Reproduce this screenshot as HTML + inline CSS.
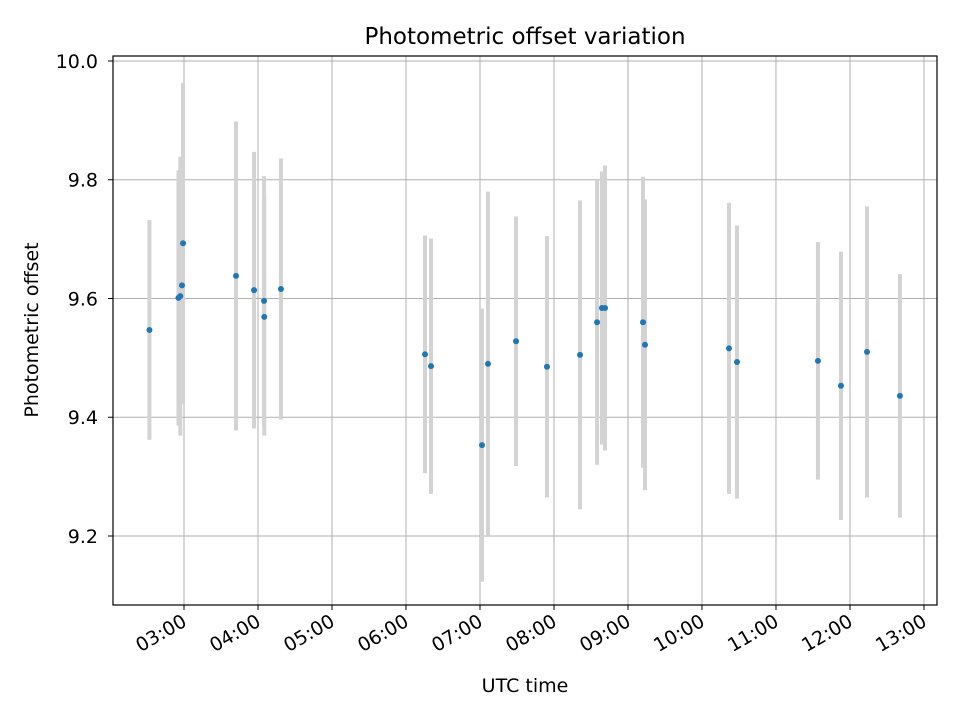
<!DOCTYPE html>
<html><head><meta charset="utf-8"><style>
body{margin:0;background:#fff;}
svg text{font-family:"DejaVu Sans","Liberation Sans",sans-serif;fill:#000;}
</style></head><body>
<svg id="chart" width="960" height="720" viewBox="0 0 960 720" xmlns="http://www.w3.org/2000/svg">
<rect width="960" height="720" fill="#fff"/>
<g id="grid"></g>
<g id="errs"></g>
<g id="pts"></g>
<rect x="113" y="56" width="824" height="549" fill="none" stroke="#000" stroke-width="1.2"/>
<g id="axes"></g>
<text x="525" y="44" text-anchor="middle" font-size="23">Photometric offset variation</text>
<text x="525" y="692" text-anchor="middle" font-size="19">UTC time</text>
<text transform="translate(38,330) rotate(-90)" text-anchor="middle" font-size="19">Photometric offset</text>
</svg>
<script>
// time in decimal hours (UTC)
const times = [2.533,2.925,2.95,2.973,2.987,3.703,3.947,4.082,4.085,4.31,6.257,6.338,7.027,7.108,7.487,7.905,8.352,8.582,8.648,8.69,9.203,9.23,10.365,10.473,11.567,11.878,12.23,12.675];
const offsets = [9.547,9.601,9.604,9.622,9.693,9.638,9.614,9.596,9.569,9.616,9.506,9.486,9.353,9.49,9.528,9.485,9.505,9.56,9.584,9.584,9.56,9.522,9.516,9.493,9.495,9.453,9.51,9.436];
const errors = [0.185,0.215,0.235,0.2,0.27,0.26,0.233,0.21,0.2,0.22,0.2,0.215,0.23,0.29,0.21,0.22,0.26,0.24,0.23,0.24,0.245,0.245,0.245,0.23,0.2,0.226,0.245,0.205];
const yTicks = [9.2,9.4,9.6,9.8,10.0];
const yTickLabels = ["9.2","9.4","9.6","9.8","10.0"];
const xTicks = [3,4,5,6,7,8,9,10,11,12,13];
const xTickLabels = ["03:00","04:00","05:00","06:00","07:00","08:00","09:00","10:00","11:00","12:00","13:00"];

const L=113,R=937,T=56,B=605;
const xMin=2.0405,xMax=13.176,yMin=9.0838,yMax=10.0084;
const X=h=>L+(h-xMin)/(xMax-xMin)*(R-L);
const Y=v=>B-(v-yMin)/(yMax-yMin)*(B-T);
const NS="http://www.w3.org/2000/svg";
function mk(tag,attrs,parent){const e=document.createElementNS(NS,tag);for(const k in attrs)e.setAttribute(k,attrs[k]);parent.appendChild(e);return e;}
const grid=document.getElementById('grid'),errs=document.getElementById('errs'),pts=document.getElementById('pts'),axes=document.getElementById('axes');

xTicks.forEach((h,i)=>{
  const x=X(h);
  const g=mk('line',{x1:x,x2:x,y1:T,y2:B,stroke:'#b0b0b0','stroke-width':1},grid);
  
  
  const t=mk('line',{x1:x,x2:x,y1:B,y2:B+5,stroke:'#000','stroke-width':1},axes);
  
  
  const ax=x+4, ay=B+20;
  const lb=mk('text',{x:ax,y:ay,'text-anchor':'end','font-size':19,transform:`rotate(-30 ${ax} ${ay})`},axes);
  lb.textContent=xTickLabels[i];
  
  
});
yTicks.forEach((v,i)=>{
  const y=Y(v);
  const g=mk('line',{x1:L,x2:R,y1:y,y2:y,stroke:'#b0b0b0','stroke-width':1},grid);
  
  
  const t=mk('line',{x1:L-5,x2:L,y1:y,y2:y,stroke:'#000','stroke-width':1},axes);
  
  
  const lb=mk('text',{x:L-15,y:y+7,'text-anchor':'end','font-size':19},axes);
  lb.textContent=yTickLabels[i];
  
  
});
times.forEach((h,i)=>{
  const x=X(h);
  const e=mk('line',{x1:x,x2:x,y1:Y(offsets[i]+errors[i]),y2:Y(offsets[i]-errors[i]),stroke:'#d3d3d3','stroke-width':4},errs);
  
  
});
times.forEach((h,i)=>{
  const c=mk('circle',{cx:X(h),cy:Y(offsets[i]),r:3,fill:'#1f77b4'},pts);
  
  
});
</script>
</body></html>
